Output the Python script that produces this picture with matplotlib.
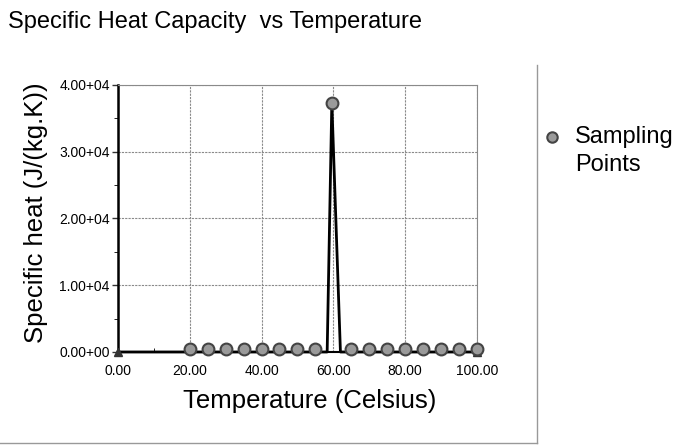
import matplotlib
matplotlib.use("Agg")
import matplotlib.pyplot as plt
from matplotlib.lines import Line2D

# Donnees
temp_line = [0, 58.3, 59.6, 62.0, 100]
heat_line = [0, 0, 37300, 0, 0]

temp_points = [20, 25, 30, 35, 40, 45, 50, 55, 59.6, 65, 70, 75, 80, 85, 90, 95, 100]
heat_points = [400, 400, 400, 400, 400, 400, 400, 400, 37300,
               400, 400, 400, 400, 400, 400, 400, 400]

temp_tri = [0, 100]
heat_tri = [0, 0]

x_ticks = [0, 20, 40, 60, 80, 100]
x_labels = ["0.00", "20.00", "40.00", "60.00", "80.00", "100.00"]
y_ticks = [0, 10000, 20000, 30000, 40000]
y_labels = ["0.00+00", "1.00+04", "2.00+04", "3.00+04", "4.00+04"]

plt.rcParams['font.family'] = ['Liberation Sans', 'DejaVu Sans']

fig = plt.figure(figsize=(6.86, 4.45), dpi=100)
ax = fig.add_axes([0.172, 0.209, 0.523, 0.600])

# courbe + points d'echantillonnage
ax.plot(temp_line, heat_line, color='black', lw=2, zorder=3, clip_on=False)
ax.plot(temp_tri, heat_tri, ls='none', marker='^', color='#333333', ms=6,
        zorder=4, clip_on=False)
ax.plot(temp_points, heat_points, ls='none', marker='o', ms=8.5,
        markerfacecolor='#9a9a9a', markeredgecolor='#444444', markeredgewidth=1.5,
        zorder=5, clip_on=False)

ax.set_xlim(0, 100)
ax.set_ylim(0, 40000)
ax.set_xticks(x_ticks)
ax.set_xticklabels(x_labels)
ax.set_yticks(y_ticks)
ax.set_yticklabels(y_labels)
ax.set_xticks([10, 30, 50, 70, 90], minor=True)
ax.set_yticks([5000, 15000, 25000, 35000], minor=True)
ax.tick_params(axis='both', labelsize=10, length=4, width=1, color='#333333', pad=2)
ax.tick_params(axis='y', which='minor', length=3)
ax.tick_params(axis='x', which='minor', length=3, direction='in')
ax.tick_params(axis='x', which='major', length=0, pad=9)

ax.grid(True, which='major', color='#8a8a8a', lw=0.8, ls=(0, (2, 1)))
for s in ['top', 'right']:
    ax.spines[s].set_color('#8a8a8a')
    ax.spines[s].set_linewidth(0.8)
ax.spines['left'].set_linewidth(1.8)
ax.spines['bottom'].set_linewidth(1.5)

ax.set_xlabel('Temperature (Celsius)', fontsize=18.5)
ax.set_ylabel('Specific heat (J/(kg.K))', fontsize=18.5)
# positions des titres d'axes (legerement decales dans l'original)
ax.xaxis.set_label_coords(0.535, -0.14)
ax.yaxis.set_label_coords(-0.195, 0.52)

fig.text(0.012, 0.95, 'Specific Heat Capacity  vs Temperature', fontsize=17,
         ha='left', va='center')

# legende
fig.add_artist(Line2D([552 / 686], [1 - 137 / 445], marker='o', ms=7.5, ls='none',
                      markerfacecolor='#9a9a9a', markeredgecolor='#444444',
                      markeredgewidth=1.5, transform=fig.transFigure))
fig.text(575 / 686, 1 - 137 / 445, 'Sampling', fontsize=17, ha='left', va='center')
fig.text(575 / 686, 1 - 165 / 445, 'Points', fontsize=17, ha='left', va='center')

# cadre
fig.add_artist(Line2D([537 / 686, 537 / 686], [1 - 65 / 445, 1 - 443 / 445],
                      color='#999999', lw=1, transform=fig.transFigure))
fig.add_artist(Line2D([0, 537 / 686], [1 - 443 / 445, 1 - 443 / 445],
                      color='#999999', lw=1, transform=fig.transFigure))

plt.savefig('out.png', dpi=100)
plt.close()
